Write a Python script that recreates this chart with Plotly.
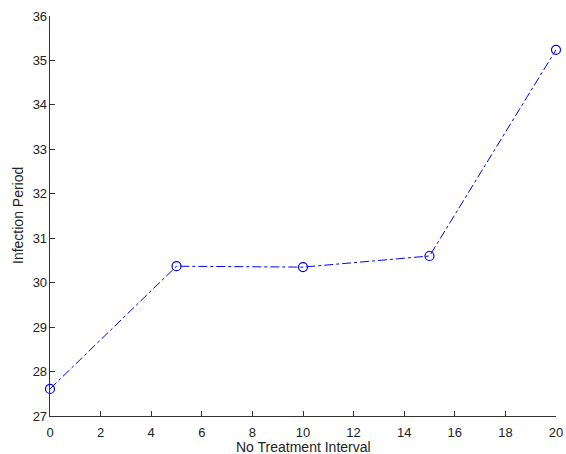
import plotly.graph_objects as go

x_vals = [0, 5, 10, 15, 20]
y_vals = [27.61, 30.37, 30.35, 30.6, 35.24]
x_ticks = [0, 2, 4, 6, 8, 10, 12, 14, 16, 18, 20]
y_ticks = [27, 28, 29, 30, 31, 32, 33, 34, 35, 36]

fig = go.Figure()
fig.add_trace(go.Scatter(
    x=x_vals, y=y_vals, mode="lines+markers",
    line=dict(color="#0000ff", width=1, dash="dashdot"),
    marker=dict(symbol="circle-open", size=9, color="#0000ff", line=dict(width=1.2)),
    cliponaxis=False, hoverinfo="skip",
))
axis_common = dict(
    showline=True, linecolor="#333333", linewidth=1.3,
    ticks="inside", ticklen=5, tickcolor="#333333", tickwidth=1,
    showgrid=False, zeroline=False, mirror=False, automargin=False,
    tickfont=dict(family="Liberation Sans, Arial", size=13, color="#222222"),
)
title_font = dict(family="Liberation Sans, Arial", size=14, color="#222222")
fig.update_xaxes(range=[0, 20], tickvals=x_ticks, ticklabelstandoff=4, **axis_common)
fig.update_yaxes(range=[27, 36], tickvals=y_ticks, ticklabelstandoff=-1, **axis_common)
fig.add_annotation(text="No Treatment Interval", xref="paper", yref="paper",
                   x=0.5, y=-(447 - 416) / 400, xanchor="center", yanchor="middle",
                   showarrow=False, font=title_font)
fig.add_annotation(text="Infection Period", xref="paper", yref="paper",
                   x=-(50 - 18) / 506, y=0.5, xanchor="center", yanchor="middle",
                   textangle=-90, showarrow=False, font=title_font)
fig.update_layout(
    width=566, height=454,
    margin=dict(l=50, r=10, t=16, b=38),
    paper_bgcolor="white", plot_bgcolor="white",
    showlegend=False,
)
fig.write_html("out.html", config={"displayModeBar": False, "staticPlot": True})

with open("out.html", "r", encoding="utf-8") as f:
    html = f.read()
html = html.replace("<head>", "<head><style>html,body{margin:0;padding:0;overflow:hidden;}</style>", 1)
with open("out.html", "w", encoding="utf-8") as f:
    f.write(html)
